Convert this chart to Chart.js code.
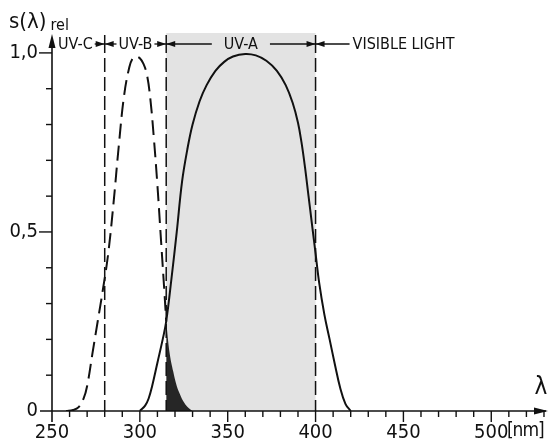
<!DOCTYPE html>
<html>
<head>
<meta charset="utf-8">
<script src="https://cdn.jsdelivr.net/npm/chart.js@4.4.1/dist/chart.umd.min.js"></script>
<style>
  body { margin: 0; background: #fff; }
  #wrap { width: 554px; height: 445px; }
</style>
</head>
<body>
<div id="wrap"><canvas id="chart" width="554" height="445"></canvas></div>
<script>
// UV-B sensitivity (dashed)
const uvbNm = [258, 262, 265, 268, 270, 273, 276, 279, 282, 285, 288, 291, 294, 296, 298, 300, 302, 304, 306, 308, 310, 312, 314, 315, 317, 319, 321, 323, 325, 327, 330];
const uvbVal = [0, 0.003, 0.01, 0.035, 0.07, 0.16, 0.25, 0.34, 0.44, 0.58, 0.74, 0.88, 0.96, 0.985, 0.99, 0.985, 0.97, 0.94, 0.87, 0.76, 0.63, 0.48, 0.33, 0.25, 0.16, 0.11, 0.07, 0.045, 0.025, 0.012, 0];

// UV-A sensitivity (solid)
const uvaNm = [300, 303, 305, 307, 310, 313, 315, 318, 321, 324, 327, 330, 334, 338, 343, 348, 353, 360, 366, 372, 378, 383, 387, 390, 392, 394, 396, 398, 400, 402, 405, 408, 411, 414, 417, 420];
const uvaVal = [0, 0.015, 0.035, 0.07, 0.135, 0.2, 0.25, 0.37, 0.5, 0.64, 0.73, 0.8, 0.865, 0.91, 0.95, 0.975, 0.99, 0.997, 0.993, 0.978, 0.95, 0.91, 0.86, 0.805, 0.75, 0.68, 0.6, 0.52, 0.44, 0.36, 0.27, 0.2, 0.13, 0.065, 0.02, 0];

// band limits [nm] and names
const bandEdges = [280, 315, 400];
const bandNames = ["UV-C", "UV-B", "UV-A", "VISIBLE LIGHT"];

// labelled ticks
const xLabels = [250, 300, 350, 400, 450, 500];
const yLabels = [0, 0.5, 1.0];

const FONT = "'Liberation Sans Narrow', 'DejaVu Sans Condensed', 'Arial Narrow', sans-serif";
const INK = "#111";

const toPoints = (xs, ys) => xs.map((x, i) => ({ x: x, y: ys[i] }));
const uvbPoints = toPoints(uvbNm, uvbVal);
const uvbDashed = uvbPoints.filter((p) => p.x <= bandEdges[1]);
const uvbDark = uvbPoints.filter((p) => p.x >= bandEdges[1]);

function arrowHead(ctx, x, y, dir, len, half) {
  ctx.beginPath();
  ctx.moveTo(x, y);
  ctx.lineTo(x - dir * len, y - half);
  ctx.lineTo(x - dir * len, y + half);
  ctx.closePath();
  ctx.fill();
}

function hLine(ctx, x1, x2, y) {
  ctx.beginPath();
  ctx.moveTo(x1, y);
  ctx.lineTo(x2, y);
  ctx.stroke();
}

const overlay = {
  id: "overlay",
  beforeDatasetsDraw(chart) {
    const { ctx, chartArea } = chart;
    const xs = chart.scales.x;
    const x1 = xs.getPixelForValue(bandEdges[1]);
    const x2 = xs.getPixelForValue(bandEdges[2]);
    ctx.save();
    ctx.fillStyle = "#e3e3e3";
    ctx.fillRect(x1, chartArea.top - 2, x2 - x1, chartArea.bottom - chartArea.top + 2);
    ctx.restore();
  },
  afterDatasetsDraw(chart) {
    const { ctx, chartArea } = chart;
    const xs = chart.scales.x;
    const ys = chart.scales.y;
    const x0 = chartArea.left;
    const y0 = ys.getPixelForValue(0);
    const top = chartArea.top;
    const bracketY = 44;

    ctx.save();
    ctx.strokeStyle = INK;
    ctx.fillStyle = INK;
    ctx.lineWidth = 1.5;

    // band dividers
    const edgePx = bandEdges.map((v) => xs.getPixelForValue(v));
    edgePx.forEach((px) => {
      ctx.setLineDash([]);
      ctx.beginPath();
      ctx.moveTo(px, top);
      ctx.lineTo(px, 53);
      ctx.stroke();
      ctx.setLineDash([14, 5]);
      ctx.beginPath();
      ctx.moveTo(px, 58);
      ctx.lineTo(px, y0);
      ctx.stroke();
    });
    ctx.setLineDash([]);

    // axes with arrows
    ctx.lineWidth = 1.6;
    hLine(ctx, x0 - 12, chart.width - 8, y0);
    arrowHead(ctx, chart.width - 6, y0, 1, 14, 3.5);
    ctx.beginPath();
    ctx.moveTo(x0, y0 + 11);
    ctx.lineTo(x0, top + 6);
    ctx.stroke();
    ctx.beginPath();
    ctx.moveTo(x0, top - 1);
    ctx.lineTo(x0 - 3.5, top + 13);
    ctx.lineTo(x0 + 3.5, top + 13);
    ctx.closePath();
    ctx.fill();

    // tick marks
    ctx.lineWidth = 1.4;
    xs.ticks.forEach((t) => {
      const v = Math.round(t.value);
      if (v % 10 !== 0 || v === 250) return;
      const px = xs.getPixelForValue(v);
      const len = v % 50 === 0 ? 11 : 6;
      ctx.beginPath();
      ctx.moveTo(px, y0);
      ctx.lineTo(px, y0 + len);
      ctx.stroke();
    });
    ys.ticks.forEach((t) => {
      const v = Math.round(t.value * 10) / 10;
      if (v === 0) return;
      const py = ys.getPixelForValue(v);
      const len = yLabels.includes(v) ? 13 : 6;
      ctx.beginPath();
      ctx.moveTo(x0 - len, py);
      ctx.lineTo(x0, py);
      ctx.stroke();
    });

    // band annotations along the top
    ctx.lineWidth = 1.3;
    ctx.font = "16px " + FONT;
    ctx.textBaseline = "middle";
    ctx.textAlign = "left";
    const ty = bracketY + 1;

    // UV-C
    const wC = ctx.measureText(bandNames[0]).width;
    ctx.fillText(bandNames[0], x0 + 6, ty);
    hLine(ctx, x0 + 8 + wC, edgePx[0], bracketY);
    arrowHead(ctx, edgePx[0], bracketY, 1, 9, 3);

    // UV-B and UV-A, centred in their bands
    [[edgePx[0], edgePx[1], bandNames[1], 2], [edgePx[1], edgePx[2], bandNames[2], 12]].forEach(([a, b, name, gap]) => {
      const w = ctx.measureText(name).width;
      const c = (a + b) / 2;
      ctx.textAlign = "center";
      ctx.fillText(name, c, ty);
      hLine(ctx, a, c - w / 2 - gap, bracketY);
      hLine(ctx, c + w / 2 + gap, b, bracketY);
      arrowHead(ctx, a, bracketY, -1, 9, 3);
      arrowHead(ctx, b, bracketY, 1, 9, 3);
    });

    // visible light
    ctx.textAlign = "left";
    hLine(ctx, edgePx[2], edgePx[2] + 34, bracketY);
    arrowHead(ctx, edgePx[2], bracketY, -1, 9, 3);
    ctx.fillText(bandNames[3], edgePx[2] + 37, ty);

    // axis titles
    ctx.textBaseline = "alphabetic";
    ctx.font = "22px " + FONT;
    ctx.fillText("s(\u03bb)", 9, 28);
    const wS = ctx.measureText("s(\u03bb)").width;
    ctx.font = "16px " + FONT;
    ctx.fillText("rel", 9 + wS + 4, 30);
    ctx.font = "24px " + FONT;
    ctx.textAlign = "center";
    ctx.fillText("\u03bb", 541, 394);

    // unit after the last labelled tick
    ctx.font = "19px " + FONT;
    ctx.letterSpacing = "-1px";
    ctx.textAlign = "left";
    ctx.textBaseline = "top";
    const p500 = xs.getPixelForValue(500);
    ctx.font = "20px " + FONT;
    const w500 = ctx.measureText("500").width;
    ctx.font = "19px " + FONT;
    ctx.fillText("[nm]", p500 + w500 / 2, y0 + 11);
    ctx.restore();
  },
};

new Chart(document.getElementById("chart"), {
  type: "line",
  data: {
    datasets: [
      {
        data: uvbDark,
        borderWidth: 0,
        pointRadius: 0,
        backgroundColor: "#262626",
        fill: "origin",
        tension: 0.4,
      },
      {
        data: uvbDashed,
        borderColor: INK,
        borderWidth: 2,
        borderDash: [15, 7],
        pointRadius: 0,
        fill: false,
        tension: 0.4,
      },
      {
        data: toPoints(uvaNm, uvaVal),
        borderColor: INK,
        borderWidth: 2,
        pointRadius: 0,
        fill: false,
        tension: 0.4,
      },
    ],
  },
  options: {
    responsive: false,
    animation: false,
    layout: { padding: { top: 35, right: 6, left: 0, bottom: 0 } },
    plugins: {
      legend: { display: false },
      tooltip: { enabled: false },
    },
    scales: {
      x: {
        type: "linear",
        min: 250,
        max: 531,
        grid: { display: false, drawTicks: false },
        border: { display: false },
        afterFit: (scale) => { scale.height = 34; },
        ticks: {
          stepSize: 10,
          includeBounds: false,
          autoSkip: false,
          maxRotation: 0,
          padding: 10,
          color: INK,
          font: { family: FONT, size: 20 },
          callback: (v) => (xLabels.includes(Math.round(v)) ? String(Math.round(v)) : ""),
        },
      },
      y: {
        min: 0,
        max: 1.05,
        grid: { display: false, drawTicks: false },
        border: { display: false },
        afterFit: (scale) => { scale.width = 52; },
        ticks: {
          stepSize: 0.1,
          includeBounds: false,
          autoSkip: false,
          padding: 14,
          color: INK,
          font: { family: FONT, size: 20 },
          callback: (v) => {
            const r = Math.round(v * 10) / 10;
            if (!yLabels.includes(r)) return "";
            return r === 0 ? "0" : r.toFixed(1).replace(".", ",");
          },
        },
      },
    },
  },
  plugins: [overlay],
});
</script>
</body>
</html>
